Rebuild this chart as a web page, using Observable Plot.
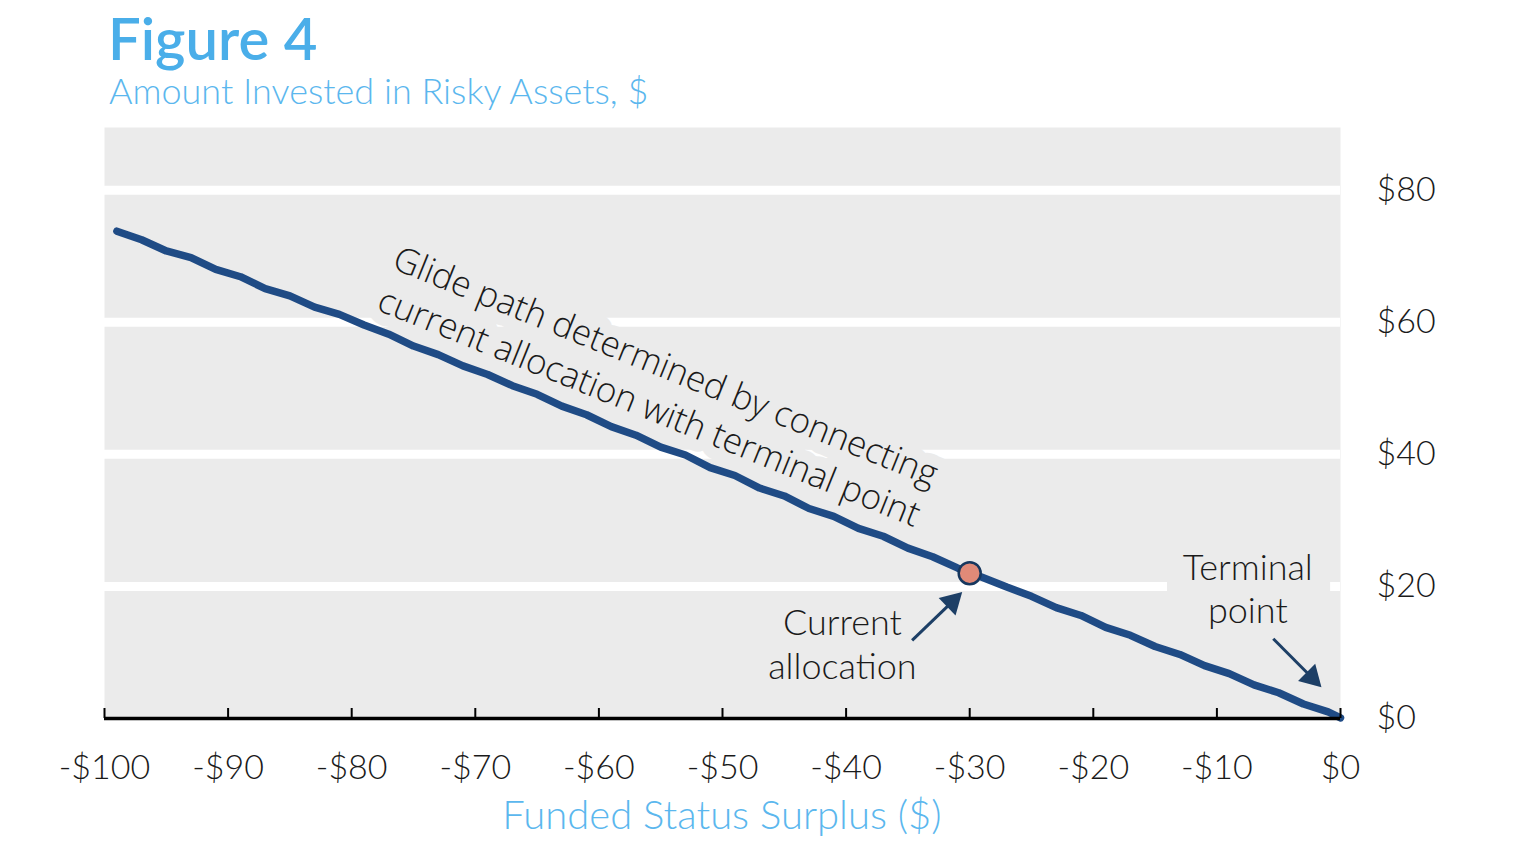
<!DOCTYPE html>
<html>
<head>
<meta charset="utf-8">
<script src="https://cdn.jsdelivr.net/npm/d3@7"></script>
<script src="https://cdn.jsdelivr.net/npm/@observablehq/plot@0.6"></script>
<style>
  body { margin: 0; background: #fff; }
  #wrap { position: relative; width: 1536px; height: 858px; overflow: hidden; font-family: Lato, "Open Sans", sans-serif; }
  #title { position: absolute; left: 108px; top: 9px; font-size: 58px; font-weight: 600; color: #4aaee9; line-height: 1; white-space: nowrap; }
  #subtitle { position: absolute; left: 109px; top: 72px; font-size: 36px; font-weight: 300; color: #5bb7ee; line-height: 1; white-space: nowrap; }
  #chart { position: absolute; left: 0; top: 112px; }
  #xlabel { position: absolute; left: 104px; width: 1236px; top: 794px; text-align: center; font-size: 40px; font-weight: 300; color: #5bb7ee; line-height: 1; white-space: nowrap; }
</style>
</head>
<body>
<div id="wrap">
  <div id="title">Figure 4</div>
  <div id="subtitle">Amount Invested in Risky Assets, $</div>
  <div id="chart"></div>
  <div id="xlabel">Funded Status Surplus ($)</div>
</div>
<script>
// ---- data ----
const surplus = [-99, -97, -95, -93, -91, -89, -87, -85, -83, -81, -79, -77, -75, -73, -71, -69, -67, -65, -63, -61, -59, -57, -55, -53, -51, -49, -47, -45, -43, -41, -39, -37, -35, -33, -31, -29, -27, -25, -23, -21, -19, -17, -15, -13, -11, -9, -7, -5, -3, -1, 0];
const risky   = [73.8, 72.5, 70.8, 69.8, 68.0, 66.9, 65.1, 64.0, 62.3, 61.2, 59.6, 58.2, 56.4, 55.1, 53.4, 52.1, 50.4, 49.1, 47.3, 46.0, 44.2, 42.9, 41.1, 39.9, 38.0, 36.8, 34.9, 33.7, 31.8, 30.6, 28.8, 27.6, 25.8, 24.5, 22.8, 21.4, 19.9, 18.5, 16.8, 15.6, 13.8, 12.6, 10.9, 9.7, 8.0, 6.8, 5.1, 3.9, 2.2, 1.0, 0.1];

const xTicks = [-100, -90, -80, -70, -60, -50, -40, -30, -20, -10, 0];
const yTicks = [0, 20, 40, 60, 80];
const yGrid = [20, 40, 60, 80];

const currentX = [-30];
const currentY = [22];

const labelText = ["Glide path determined by connecting\ncurrent allocation with terminal point", "Current\nallocation", "Terminal\npoint"];
const labelX = [-55.2, -40.3, -7.5];
const labelY = [50.55, 11.4, 19.85];

const boxX1 = [-14.0];
const boxX2 = [-0.8];
const boxY1 = [14.5];
const boxY2 = [25.5];

const arrowX1 = [-34.66, -5.44];
const arrowY1 = [11.82, 12.08];
const arrowX2 = [-31.42, -2.34];
const arrowY2 = [17.67, 6.24];
const arrowAngle = [46, 135];

// ---- tables built from the arrays ----
const series = surplus.map((x, i) => ({x, y: risky[i]}));
const current = currentX.map((x, i) => ({x, y: currentY[i]}));
const labels = labelText.map((t, i) => ({t, x: labelX[i], y: labelY[i]}));
const boxes = boxX1.map((x1, i) => ({x1, x2: boxX2[i], y1: boxY1[i], y2: boxY2[i]}));
const arrows = arrowX1.map((x1, i) => ({x1, y1: arrowY1[i], x2: arrowX2[i], y2: arrowY2[i], a: arrowAngle[i]}));

const panel = "#ebebeb";
const navy = "#1f4b85";
const arrowColor = "#1d3f66";
const fmtX = d => (d < 0 ? "-$" + (-d) : "$" + d);

const chart = Plot.plot({
  width: 1536,
  height: 683,
  marginLeft: 104,
  marginRight: 196,
  marginTop: 15,
  marginBottom: 77,
  style: {fontFamily: "Lato, 'Open Sans', sans-serif", fontWeight: 300, color: "#1a1a1a", background: "transparent"},
  x: {domain: [-100, 0], label: null},
  y: {domain: [0, 89.5], label: null},
  marks: [
    Plot.frame({fill: panel, stroke: "none"}),
    Plot.ruleY(yGrid, {y: d => d, stroke: "white", strokeWidth: 9}),
    Plot.rect(boxes, {x1: "x1", x2: "x2", y1: "y1", y2: "y2", fill: panel}),
    Plot.text([labels[0]], {x: "x", y: "y", text: "t", rotate: 22, fontSize: 35, fontFamily: "'Open Sans', sans-serif", fontWeight: 300, fill: "#1a1a1a", stroke: panel, strokeWidth: 24, lineHeight: 1.26, lineAnchor: "middle", textAnchor: "middle"}),
    Plot.text(labels.slice(1), {x: "x", y: "y", text: "t", fontSize: 36, fontFamily: "Lato, sans-serif", fontWeight: 300, fill: "#1a1a1a", lineHeight: 1.22, lineAnchor: "middle", textAnchor: "middle"}),
    Plot.line(series, {x: "x", y: "y", stroke: navy, strokeWidth: 7.5, strokeLinejoin: "round", strokeLinecap: "round"}),
    Plot.link(arrows, {x1: "x1", y1: "y1", x2: "x2", y2: "y2", stroke: arrowColor, strokeWidth: 3}),
    Plot.dot(arrows, {x: "x2", y: "y2", symbol: "triangle", r: 9, rotate: "a", fill: arrowColor, stroke: "none"}),
    Plot.dot(current, {x: "x", y: "y", r: 11, fill: "#e08a78", stroke: "#17375e", strokeWidth: 2.5}),
    Plot.ruleY([0], {stroke: "#000", strokeWidth: 3.5}),
    Plot.axisX({ticks: xTicks, tickSize: 10, dy: -10, tickFormat: () => "", stroke: "#000", strokeWidth: 2, label: null}),
    Plot.axisX({ticks: xTicks, tickSize: 0, tickPadding: 36, tickFormat: fmtX, fontSize: 34, fontWeight: 300, fill: "#1a1a1a", label: null}),
    Plot.axisY({ticks: yTicks, anchor: "right", tickSize: 0, tickPadding: 36, tickFormat: d => "$" + d, fontSize: 34, fontWeight: 300, fill: "#1a1a1a", label: null})
  ]
});
document.getElementById("chart").appendChild(chart);
</script>
</body>
</html>
